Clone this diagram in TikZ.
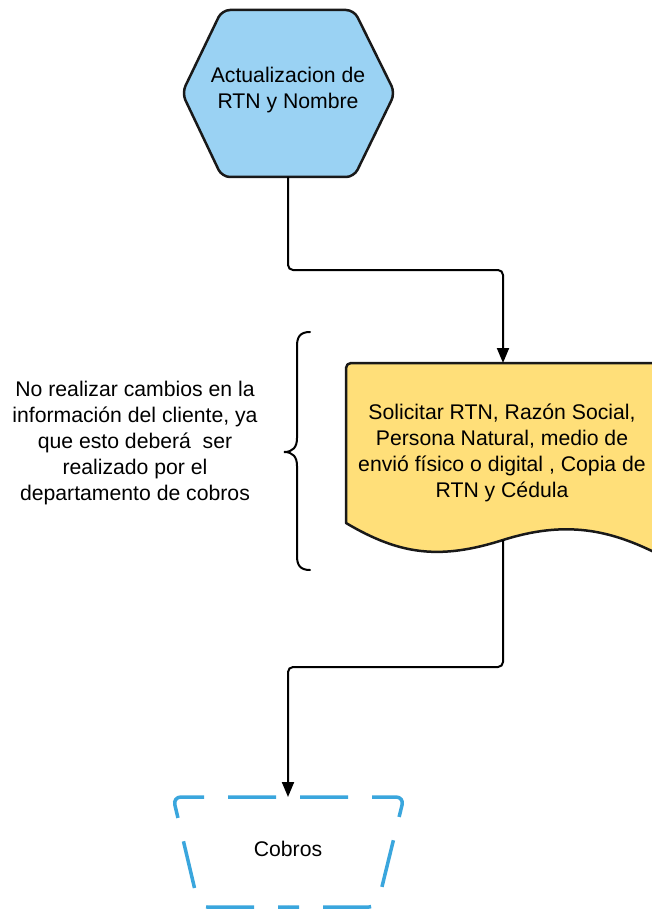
\documentclass[tikz,border=0pt]{standalone}
\usepackage{fontspec}
\setmainfont{Liberation Sans}
\usetikzlibrary{arrows.meta}
\definecolor{hexblue}{HTML}{9AD2F3}
\definecolor{docyellow}{HTML}{FFDF79}
\definecolor{dashblue}{HTML}{3AA6DD}
\tikzset{
  txt/.style={align=center,font=\fontsize{21.2}{26}\selectfont},
  outline/.style={line width=2.5pt,line join=round,draw=black!90},
  link/.style={line width=2pt,rounded corners=5pt,-{Triangle[length=15pt,width=12pt]}},
  dashbox/.style={line width=3.5pt,draw=dashblue,rounded corners=8pt,dash pattern=on 48pt off 24pt,dash phase=60pt},
}
\begin{document}
\begin{tikzpicture}[x=1pt,y=-1pt]
    \useasboundingbox (0,0) rectangle (652,909);
    \filldraw[outline,fill=hexblue,rounded corners=8pt] (288,10) -- (354,10) -- (395,93) -- (354,177) -- (222,177) -- (182,93) -- (222,10) -- cycle;
    \node[txt] (actualizar) at (288,90) {Actualizacion de\\RTN y Nombre};
    \coordinate (actualizar-s) at (288,177);
    \filldraw[outline,fill=docyellow,rounded corners=5pt] (346,523) -- (346,363) -- (662,363) -- (662,556) [sharp corners] .. controls (610,530) and (566,520) .. (503,540) .. controls (440,560) and (400,555) .. (346,523) -- cycle;
    \node[txt] (solicitar) at (502,453) {Solicitar RTN, Razón Social,\\Persona Natural, medio de\\envió físico o digital , Copia de\\RTN y Cédula};
    \coordinate (solicitar-n) at (503,363);
    \coordinate (solicitar-s) at (503,540);
    \draw[line width=2pt,line cap=round] (310,332) .. controls (300,332) and (297,337) .. (297,346) -- (297,438) .. controls (297,447) and (293,452) .. (284,452) .. controls (293,452) and (297,457) .. (297,466) -- (297,556) .. controls (297,565) and (300,570) .. (310,570);
    \node[txt] (nota) at (135,443) {No realizar cambios en la\\información del cliente, ya\\que esto deberá\ \ ser\\realizado por el\\departamento de cobros};
    \draw[dashbox] (288,797) -- (404,797) -- (377,907) -- (288,907);
    \draw[dashbox] (288,797) -- (173,797) -- (199,907) -- (288,907);
    \node[txt] (cobros) at (288,849) {Cobros};
    \coordinate (cobros-n) at (288,797);
    \draw[link] (actualizar-s) -- ++(0,93) -| (solicitar-n);
    \draw[link] (solicitar-s) -- ++(0,127) -| (cobros-n);
\end{tikzpicture}
\end{document}
